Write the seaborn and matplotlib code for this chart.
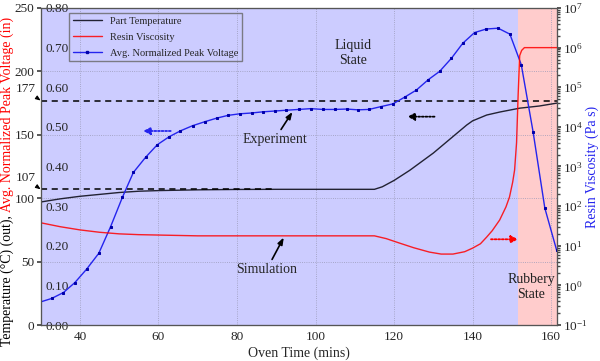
"""Part temperature, resin viscosity and sensor voltage during oven cure."""

import matplotlib

matplotlib.use("Agg")
import matplotlib.pyplot as plt
import seaborn as sns
from matplotlib.lines import Line2D
from matplotlib.ticker import LogLocator

# Part temperature (simulation), degC
temp_time = [30, 35, 40, 45, 50, 55, 60, 70, 80, 90, 100, 110, 115, 117, 120, 124,
             130, 134, 138.5, 140, 143.6, 147, 152, 157, 161.5]
temp_vals = [97, 99.5, 101.5, 103, 104.5, 105.5, 106, 106.6, 106.9, 107, 107, 107, 107,
             109, 114, 122, 135.6, 146, 157.7, 161, 165.6, 168, 171, 172.7, 175]

# Resin viscosity (simulation), Pa s
visc_time = [30, 35, 40, 45, 50, 55, 60, 70, 115, 118, 121, 125, 129, 132, 135, 138,
             140, 142, 143.6, 145, 146.9, 148.5, 149.4, 150.2, 150.7, 151.2, 151.6,
             152, 152.5, 153.2, 161.5]
visc_exp = [1.58, 1.48, 1.40, 1.34, 1.30, 1.28, 1.27, 1.25, 1.25, 1.18, 1.08, 0.95,
            0.84, 0.79, 0.79, 0.85, 0.94, 1.05, 1.22, 1.38, 1.65, 1.98, 2.23, 2.6,
            2.91, 3.6, 4.8, 5.8, 5.93, 6.0, 6.0]
visc_vals = [10 ** e for e in visc_exp]

# Avg. normalized peak voltage (experiment)
volt_time = [29.9, 32.8, 35.8, 38.7, 41.7, 44.8, 47.8, 50.8, 53.6, 56.7, 59.7, 62.7,
             65.6, 68.7, 71.8, 74.8, 77.7, 80.7, 83.7, 86.6, 89.6, 92.6, 95.7, 98.8,
             101.9, 104.9, 107.9, 110.8, 113.6, 116.6, 119.7, 122.7, 125.7, 128.7,
             131.6, 134.6, 137.5, 140.5, 143.5, 146.5, 149.5, 152.4, 155.4, 158.4, 161.4]
volt_vals = [0.058, 0.067, 0.082, 0.107, 0.141, 0.181, 0.248, 0.322, 0.385, 0.423,
             0.455, 0.475, 0.490, 0.503, 0.513, 0.522, 0.529, 0.533, 0.535, 0.538,
             0.540, 0.542, 0.544, 0.546, 0.544, 0.544, 0.545, 0.543, 0.544, 0.551,
             0.558, 0.575, 0.593, 0.619, 0.640, 0.673, 0.711, 0.738, 0.747, 0.749,
             0.734, 0.657, 0.488, 0.295, 0.189]

# Reference temperatures marked with dashed lines
ref_temps = [107, 177]
ref_ends = [89, 161.5]

x_min, x_max = 30, 161.5
rubbery_start = 151.6

BLUE = "#2424ee"

sns.set_theme(style="white")
plt.rcParams["font.family"] = ["Liberation Serif", "DejaVu Serif"]
plt.rcParams["mathtext.fontset"] = "custom"
plt.rcParams["mathtext.rm"] = "Liberation Serif"

fig = plt.figure(figsize=(6, 3.61), dpi=100)
ax = fig.add_axes([40.7 / 600, 1 - 325 / 361, 516.3 / 600, 317 / 361])
ax.set_facecolor("#ccccff")
ax.axvspan(rubbery_start, x_max, color="#ffcccc", lw=0, zorder=0)
ax.grid(True, ls=":", color="#9a9ab8", lw=0.6)

# temperature on the left axis
sns.lineplot(x=temp_time, y=temp_vals, ax=ax, color="#222233", lw=1.0, legend=False)
for t_ref, t_end in zip(ref_temps, ref_ends):
    ax.plot([x_min, t_end], [t_ref, t_ref], ls=(0, (4, 3)), color="black", lw=1.1)
ax.set_xlim(x_min, x_max)
ax.set_ylim(0, 250)
ax.set_xticks([40, 60, 80, 100, 120, 140, 160])
ax.set_yticks([0, 50, 100, 150, 200, 250])
ax.tick_params(axis="both", labelsize=9.5, length=3, color="#444444", pad=1.5)
ax.set_xlabel("Oven Time (mins)", fontsize=10, labelpad=2)

# voltage, labelled inside the left spine
ax_v = ax.twinx()
sns.lineplot(x=volt_time, y=volt_vals, ax=ax_v, color=BLUE, lw=1.0,
             marker="s", markersize=1.8, markevery=list(range(1, len(volt_time))),
             markerfacecolor="#0000aa", markeredgecolor="#0000aa", legend=False)
ax_v.set_ylim(0, 0.8)
ax_v.set_yticks([0.0, 0.1, 0.2, 0.3, 0.4, 0.5, 0.6, 0.7, 0.8])
ax_v.set_yticklabels([f"{v:.2f}" for v in ax_v.get_yticks()])
ax_v.yaxis.set_ticks_position("left")
ax_v.tick_params(axis="y", direction="in", length=0, pad=-20, labelsize=9.5)
ax_v.set_ylabel("")

# viscosity on a log right axis
ax_r = ax.twinx()
sns.lineplot(x=visc_time, y=visc_vals, ax=ax_r, color="red", alpha=0.85, lw=1.0,
             legend=False)
ax_r.set_yscale("log")
ax_r.set_ylim(1e-1, 1e7)
ax_r.yaxis.set_major_locator(LogLocator(base=10, numticks=20))
ax_r.tick_params(axis="y", labelsize=9.5, length=3, color="#444444", pad=1.5)
ax_r.tick_params(axis="y", which="minor", length=2, color="#444444")
ax_r.set_ylabel("Resin Viscosity (Pa s)", color=BLUE, fontsize=10)
ax_r.yaxis.set_label_coords(1.055, 0.5)

for a in (ax, ax_v, ax_r):
    for s in a.spines.values():
        s.set_color("#555555")
        s.set_linewidth(0.8)

handles = [
    Line2D([], [], color="#222233", lw=1.0),
    Line2D([], [], color="red", alpha=0.85, lw=1.0),
    Line2D([], [], color=BLUE, lw=1.0, marker="s", markersize=1.8,
           markerfacecolor="#0000aa", markeredgecolor="#0000aa"),
]
ax_r.legend(handles, ["Part Temperature", "Resin Viscosity", "Avg. Normalized Peak Voltage"],
            loc="upper left", bbox_to_anchor=(0.055, 0.985), borderaxespad=0,
            fontsize=7.5, frameon=True, fancybox=False, facecolor="none",
            edgecolor="#666666", handlelength=2.8, labelspacing=0.65,
            borderpad=0.35)

# dotted direction arrows
arrow_specs = [((63.1, 153), (56.1, 153), BLUE),
               ((130.3, 164.3), (123.4, 164.3), "black"),
               ((144.7, 67.6), (151.6, 67.6), "red")]
for tail, head, col in arrow_specs:
    ax.annotate("", xy=head, xytext=tail,
                arrowprops=dict(arrowstyle="-|>,head_length=0.35,head_width=0.18",
                                ls=(0, (1, 1)), color=col, lw=1.3,
                                shrinkA=0, shrinkB=0))

ax.annotate("Experiment", xy=(94.1, 168), xytext=(89.6, 146.5), ha="center",
            va="center", fontsize=10,
            arrowprops=dict(arrowstyle="-|>,head_length=0.4,head_width=0.15",
                            color="black", lw=1.2, shrinkA=0, shrinkB=0))
ax.annotate("Simulation", xy=(91.9, 69), xytext=(87.6, 44), ha="center",
            va="center", fontsize=10,
            arrowprops=dict(arrowstyle="-|>,head_length=0.4,head_width=0.15",
                            color="black", lw=1.2, shrinkA=0, shrinkB=0))
ax.text(109.5, 214.5, "Liquid\nState", ha="center", va="center", fontsize=10,
        linespacing=1.15, color="#222222")
ax.text(154.9, 29.9, "Rubbery\nState", ha="center", va="center", fontsize=10,
        linespacing=1.15, color="#222222")

for t_ref in ref_temps:
    ax.annotate(str(t_ref), xy=(x_min, t_ref), xytext=(-11, 8),
                textcoords="offset points", ha="center", va="center", fontsize=9.5,
                annotation_clip=False,
                arrowprops=dict(arrowstyle="-|>,head_length=0.3,head_width=0.12",
                                color="black", lw=0.8, shrinkA=0, shrinkB=0))

# two-colour left axis label
fig.canvas.draw()
renderer = fig.canvas.get_renderer()
t1 = fig.text(7 / 600, 1 - 346 / 361, "Temperature (°C) (out), ", rotation=90,
              ha="center", va="bottom", fontsize=10, color="black")
bb = t1.get_window_extent(renderer)
fig.text(7 / 600, bb.y1 / fig.bbox.height, "Avg. Normalized Peak Voltage (in)",
         rotation=90, ha="center", va="bottom", fontsize=10, color="red")

fig.savefig("out.png", dpi=100)
